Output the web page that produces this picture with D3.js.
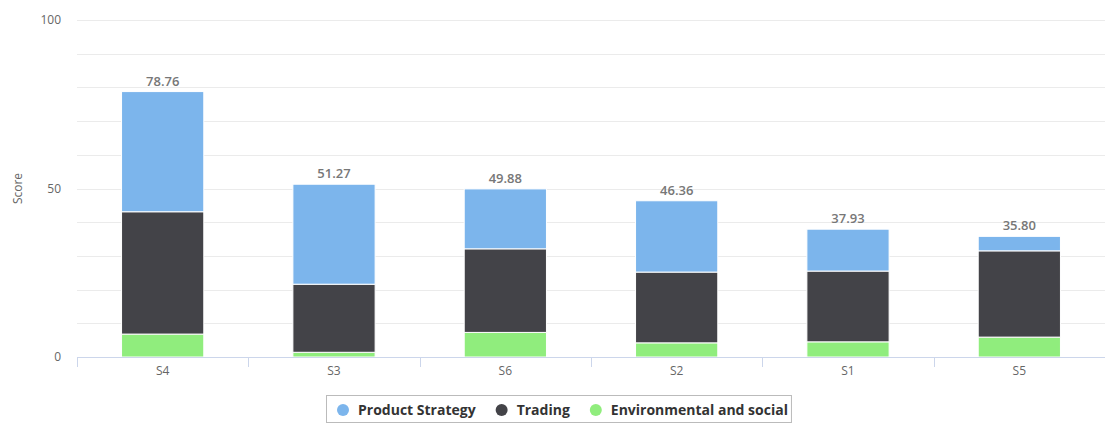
<!DOCTYPE html>
<html>
<head>
<meta charset="utf-8">
<script src="https://cdn.jsdelivr.net/npm/d3@7"></script>
<style>
    body { margin: 0; background: #fff; }
    svg { font-family: 'Open Sans', sans-serif; }
</style>
</head>
<body>
<svg id="chart" width="1105" height="423"></svg>
<script>
const categories = ['S4', 'S3', 'S6', 'S2', 'S1', 'S5']
const seriesNames = ['Product Strategy', 'Trading', 'Environmental and social']
// stacked from bottom: environmental, trading, product
const envSocial = [6.8, 1.4, 7.3, 4.2, 4.5, 5.9]
const trading = [36.3, 20.2, 24.8, 21.0, 21.0, 25.6]
const productStrategy = [35.66, 29.67, 17.78, 21.16, 12.43, 4.3]
const totals = [78.76, 51.27, 49.88, 46.36, 37.93, 35.8]
const yTicks = [0, 50, 100]

const colors = {
    'Product Strategy': '#7cb5ec',
    'Trading': '#434348',
    'Environmental and social': '#90ed7d'
}

const svg = d3.select('#chart')
const margin = { top: 20, right: 0, bottom: 66, left: 77 }
const width = 1105 - margin.left - margin.right
const height = 423 - margin.top - margin.bottom

const x = d3.scaleBand().domain(categories).range([0, width]).paddingInner(0.52).paddingOuter(0.26)
const xOuter = d3.scaleBand().domain(categories).range([0, width])
const y = d3.scaleLinear().domain([0, 100]).range([height, 0])

const g = svg.append('g').attr('transform', `translate(${margin.left},${margin.top})`)

// grid every 10
g.append('g')
    .selectAll('line')
    .data(d3.range(10, 101, 10))
    .join('line')
    .attr('x1', 0)
    .attr('x2', width)
    .attr('y1', (d) => Math.round(y(d)) + 0.5)
    .attr('y2', (d) => Math.round(y(d)) + 0.5)
    .attr('stroke', '#ebebeb')

// y labels
g.append('g')
    .selectAll('text')
    .data(yTicks)
    .join('text')
    .attr('x', -16)
    .attr('y', (d) => y(d) + 4)
    .attr('text-anchor', 'end')
    .attr('fill', '#666')
    .attr('font-size', 12)
    .text((d) => d)

svg.append('text')
    .attr('transform', `translate(22,${margin.top + y(50)}) rotate(-90)`)
    .attr('text-anchor', 'middle')
    .attr('fill', '#666')
    .attr('font-size', 12)
    .text('Score')

const rows = categories.map((c, i) => ({
    cat: c,
    'Environmental and social': envSocial[i],
    'Trading': trading[i],
    'Product Strategy': productStrategy[i],
    total: totals[i]
}))

const stack = d3.stack().keys(['Environmental and social', 'Trading', 'Product Strategy'])
const layers = stack(rows)

g.append('g')
    .selectAll('g')
    .data(layers)
    .join('g')
    .attr('fill', (d) => colors[d.key])
    .selectAll('rect')
    .data((d) => d)
    .join('rect')
    .attr('x', (d) => x(d.data.cat))
    .attr('width', x.bandwidth())
    .attr('y', (d) => y(d[1]))
    .attr('height', (d) => y(d[0]) - y(d[1]))
    .attr('stroke', '#fff')
    .attr('stroke-width', 1)

// total labels
g.append('g')
    .selectAll('text')
    .data(rows)
    .join('text')
    .attr('x', (d) => x(d.cat) + x.bandwidth() / 2)
    .attr('y', (d) => y(d3.sum(seriesNames, (k) => d[k])) - 6)
    .attr('text-anchor', 'middle')
    .attr('fill', '#777')
    .attr('font-size', 13)
    .attr('font-weight', 600)
    .text((d) => d3.format('.2f')(d.total))

// x axis
g.append('line')
    .attr('x1', 0)
    .attr('x2', width)
    .attr('y1', height + 0.5)
    .attr('y2', height + 0.5)
    .attr('stroke', '#ccd6eb')

g.append('g')
    .selectAll('line')
    .data(categories.concat(['end']))
    .join('line')
    .attr('x1', (d, i) => Math.round(i < categories.length ? xOuter(d) : width) + 0.5)
    .attr('x2', (d, i) => Math.round(i < categories.length ? xOuter(d) : width) + 0.5)
    .attr('y1', height)
    .attr('y2', height + 10)
    .attr('stroke', '#ccd6eb')

g.append('g')
    .selectAll('text')
    .data(categories)
    .join('text')
    .attr('x', (d) => xOuter(d) + xOuter.bandwidth() / 2)
    .attr('y', height + 18)
    .attr('text-anchor', 'middle')
    .attr('fill', '#666')
    .attr('font-size', 12)
    .text((d) => d)

// legend
const legend = svg.append('g').attr('transform', 'translate(326,395)')
const box = legend.append('rect')
    .attr('y', 0.5)
    .attr('height', 27)
    .attr('fill', 'none')
    .attr('stroke', '#bbb')

let lx = 17
seriesNames.forEach((name) => {
    legend.append('circle')
        .attr('cx', lx)
        .attr('cy', 15)
        .attr('r', 6)
        .attr('fill', colors[name])
    const t = legend.append('text')
        .attr('x', lx + 15)
        .attr('y', 20)
        .attr('fill', '#333')
        .attr('font-size', 14)
        .attr('font-weight', 'bold')
        .text(name)
    lx += 15 + t.node().getComputedTextLength() + 26
})
box.attr('x', 0.5).attr('width', lx - 26 + 3)
</script>
</body>
</html>
